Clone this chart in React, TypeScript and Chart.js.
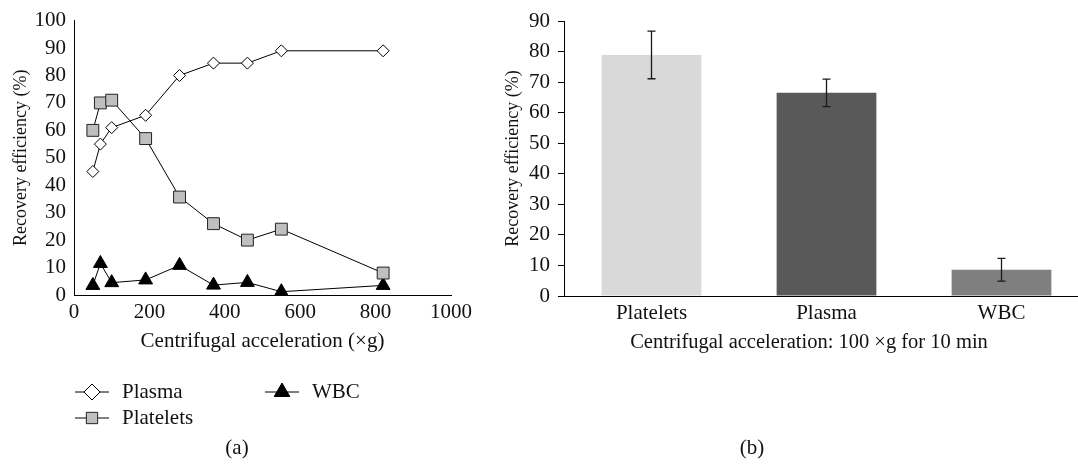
import React, { useEffect, useRef } from "react";
import { Chart, registerables } from "chart.js";

Chart.register(...registerables);

// ---------- Data (a) ----------
const accel = [50, 70, 100, 190, 280, 370, 460, 550, 820];
const plasmaRecovery = [45, 55, 61, 65.5, 80, 84.5, 84.5, 89, 89];
const plateletRecovery = [60, 70, 71, 57, 35.7, 26, 20, 24, 8];
const wbcRecovery = [3.5, 11.5, 4.5, 5.5, 10.8, 3.6, 4.6, 1.2, 3.5];
const seriesNames = ["Plasma", "Platelets", "WBC"];

// ---------- Data (b) ----------
const barCategories = ["Platelets", "Plasma", "WBC"];
const barMeans = [78.9, 66.5, 8.6];
const barErrors = [7.8, 4.5, 3.7];
const barColors = ["#d9d9d9", "#595959", "#7f7f7f"];

const FONT = "'Liberation Serif', 'DejaVu Serif', serif";
const TXT = "#111111";
const TICK_SIZE = 21;

function toXY(xs: number[], ys: number[]) {
  return xs.map((x, i) => ({ x, y: ys[i] }));
}

function markerPath(ctx: CanvasRenderingContext2D, style: string, x: number, y: number, r: number) {
  ctx.beginPath();
  if (style === "rectRot") {
    ctx.moveTo(x - r, y);
    ctx.lineTo(x, y - r);
    ctx.lineTo(x + r, y);
    ctx.lineTo(x, y + r);
    ctx.closePath();
  } else if (style === "rect") {
    const s = Math.SQRT1_2 * r;
    ctx.rect(x - s, y - s, 2 * s, 2 * s);
  } else {
    const w = r * Math.sin((Math.PI * 2) / 3);
    ctx.moveTo(x, y - r);
    ctx.lineTo(x + w, y + r / 2);
    ctx.lineTo(x - w, y + r / 2);
    ctx.closePath();
  }
}

// legend laid out in columns like the original figure
const legendPlugin = {
  id: "columnLegend",
  afterDraw(chart: any) {
    const ctx: CanvasRenderingContext2D = chart.ctx;
    const a = chart.chartArea;
    const slots = [
      { col: 0, row: 0 },
      { col: 0, row: 1 },
      { col: 1, row: 0 },
    ];
    const legendR = [8, 8, 9];
    ctx.save();
    chart.data.datasets.forEach((ds: any, i: number) => {
      const s = slots[i];
      const x0 = a.left + 1 + s.col * 190;
      const y = a.bottom + 97 + s.row * 26;
      ctx.strokeStyle = "#000";
      ctx.lineWidth = 1;
      ctx.beginPath();
      ctx.moveTo(x0, y);
      ctx.lineTo(x0 + 34, y);
      ctx.stroke();
      ctx.fillStyle = ds.pointBackgroundColor;
      ctx.strokeStyle = ds.pointBorderColor;
      markerPath(ctx, ds.pointStyle, x0 + 17, y, legendR[i]);
      ctx.fill();
      ctx.stroke();
      ctx.fillStyle = TXT;
      ctx.font = `21px ${FONT}`;
      ctx.textBaseline = "middle";
      ctx.textAlign = "left";
      ctx.fillText(ds.label, x0 + 47, y);
    });
    ctx.restore();
  },
};

const errorBarPlugin = {
  id: "errorBars",
  afterDatasetsDraw(chart: any) {
    const ctx: CanvasRenderingContext2D = chart.ctx;
    const meta = chart.getDatasetMeta(0);
    const yScale = chart.scales.y;
    ctx.save();
    ctx.strokeStyle = "#1a1a1a";
    ctx.lineWidth = 1.3;
    meta.data.forEach((bar: any, i: number) => {
      const x = bar.x;
      const hi = yScale.getPixelForValue(barMeans[i] + barErrors[i]);
      const lo = yScale.getPixelForValue(barMeans[i] - barErrors[i]);
      ctx.beginPath();
      ctx.moveTo(x, hi);
      ctx.lineTo(x, lo);
      ctx.moveTo(x - 4, hi);
      ctx.lineTo(x + 4, hi);
      ctx.moveTo(x - 4, lo);
      ctx.lineTo(x + 4, lo);
      ctx.stroke();
    });
    ctx.restore();
  },
};

export default function App() {
  const leftRef = useRef<HTMLCanvasElement>(null);
  const rightRef = useRef<HTMLCanvasElement>(null);

  useEffect(() => {
    Chart.defaults.font.family = FONT;
    Chart.defaults.color = TXT;

    const left = new Chart(leftRef.current!, {
      type: "scatter",
      data: {
        datasets: [
          {
            label: seriesNames[0],
            data: toXY(accel, plasmaRecovery),
            showLine: true,
            borderColor: "#000",
            borderWidth: 1,
            pointStyle: "rectRot",
            pointRadius: 6,
            pointBackgroundColor: "#ffffff",
            pointBorderColor: "#000",
            pointBorderWidth: 1,
          },
          {
            label: seriesNames[1],
            data: toXY(accel, plateletRecovery),
            showLine: true,
            borderColor: "#000",
            borderWidth: 1,
            pointStyle: "rect",
            pointRadius: 8.4,
            pointBackgroundColor: "#bfbfbf",
            pointBorderColor: "#222",
            pointBorderWidth: 1,
          },
          {
            label: seriesNames[2],
            data: toXY(accel, wbcRecovery),
            showLine: true,
            borderColor: "#000",
            borderWidth: 1,
            pointStyle: "triangle",
            pointRadius: 8,
            pointBackgroundColor: "#000",
            pointBorderColor: "#000",
            pointBorderWidth: 1,
          },
        ],
      },
      options: {
        animation: false,
        responsive: false,
        layout: { padding: { left: 0, right: 29, top: 20, bottom: 115 } },
        plugins: { legend: { display: false }, tooltip: { enabled: false } },
        scales: {
          x: {
            type: "linear",
            min: 0,
            max: 1000,
            ticks: {
              stepSize: 200,
              padding: 5,
              autoSkip: false,
              maxRotation: 0,
              font: { size: TICK_SIZE },
              color: TXT,
              callback: (v: any) => String(v),
            },
            grid: { display: false, drawTicks: false },
            border: { display: true, color: "#000", width: 1 },
            title: {
              display: true,
              text: "Centrifugal acceleration (×g)",
              font: { size: 21 },
              color: TXT,
              padding: { top: 0, bottom: 1 },
            },
            afterFit: (s: any) => {
              s.height = 60;
            },
          },
          y: {
            min: 0,
            max: 100,
            ticks: {
              stepSize: 10,
              padding: 8,
              autoSkip: false,
              font: { size: TICK_SIZE },
              color: TXT,
            },
            grid: { display: false, drawTicks: false },
            border: { display: true, color: "#000", width: 1 },
            title: {
              display: true,
              text: "Recovery efficiency (%)",
              font: { size: 18 },
              color: TXT,
              padding: { top: 10, bottom: 0 },
            },
            afterFit: (s: any) => {
              s.width = 74;
            },
          },
        },
      },
      plugins: [legendPlugin],
    });

    const right = new Chart(rightRef.current!, {
      type: "bar",
      data: {
        labels: barCategories,
        datasets: [
          {
            data: barMeans,
            backgroundColor: barColors,
            borderWidth: 0,
            barPercentage: 0.57,
            categoryPercentage: 1,
          },
        ],
      },
      options: {
        animation: false,
        responsive: false,
        layout: { padding: { left: 0, right: 11, top: 21, bottom: 114 } },
        plugins: { legend: { display: false }, tooltip: { enabled: false } },
        scales: {
          x: {
            ticks: { padding: 5, autoSkip: false, maxRotation: 0, font: { size: TICK_SIZE }, color: TXT },
            grid: { display: false, drawTicks: false },
            border: { display: true, color: "#000", width: 1 },
            afterFit: (s: any) => {
              s.height = 60;
            },
          },
          y: {
            min: 0,
            max: 90,
            ticks: { stepSize: 10, padding: 8, autoSkip: false, font: { size: TICK_SIZE }, color: TXT },
            grid: {
              display: true,
              drawOnChartArea: false,
              drawTicks: true,
              tickLength: 6,
              color: "#000",
            },
            border: { display: true, color: "#000", width: 1 },
            title: {
              display: true,
              text: "Recovery efficiency (%)",
              font: { size: 18 },
              color: TXT,
              padding: { top: 22, bottom: 0 },
            },
            afterFit: (s: any) => {
              s.width = 84;
            },
          },
        },
      },
      plugins: [errorBarPlugin],
    });

    return () => {
      left.destroy();
      right.destroy();
    };
  }, []);

  const textStyle: React.CSSProperties = {
    position: "absolute",
    fontFamily: FONT,
    fontSize: 20.5,
    color: TXT,
    whiteSpace: "nowrap",
    transform: "translate(-50%, -50%)",
    lineHeight: "1",
  };

  return (
    <div
      style={{
        position: "fixed",
        left: 0,
        top: 0,
        width: 1078,
        height: 470,
        overflow: "hidden",
        background: "#fff",
      }}
    >
      <canvas ref={leftRef} width={480} height={470} style={{ position: "absolute", left: 0, top: 0 }} />
      <canvas ref={rightRef} width={620} height={470} style={{ position: "absolute", left: 480, top: 0 }} />
      <div style={{ ...textStyle, left: 809, top: 341 }}>Centrifugal acceleration: 100 ×g for 10 min</div>
      <div style={{ ...textStyle, left: 237, top: 447, fontSize: 21 }}>(a)</div>
      <div style={{ ...textStyle, left: 752, top: 447, fontSize: 21 }}>(b)</div>
    </div>
  );
}
